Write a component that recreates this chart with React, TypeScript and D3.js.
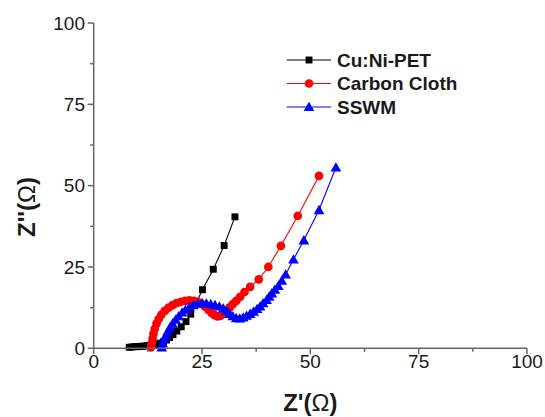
import React from "react";
import * as d3 from "d3";

// Nyquist data: [Z' (Ω), Z'' (Ω)]
const cuNiPet: [number, number][] = [
  [8.2, 0.3], [8.8, 0.4], [9.4, 0.5], [10.0, 0.5], [10.6, 0.6], [11.2, 0.6],
  [11.8, 0.7], [12.4, 0.8], [13.0, 0.9], [13.6, 1.0], [14.2, 1.1], [14.8, 1.3],
  [15.4, 1.6], [16.1, 2.0], [16.8, 2.6], [17.5, 3.3], [18.3, 4.2], [19.2, 5.3],
  [20.2, 6.6], [21.3, 8.2], [22.4, 10.5], [25.1, 18.0], [27.6, 24.3],
  [30.1, 31.6], [32.6, 40.4],
];

const carbonCloth: [number, number][] = [
  [13.2, 0.3], [13.4, 1.5], [13.6, 3.0], [13.8, 4.5], [14.1, 6.0], [14.5, 7.6],
  [15.0, 9.0], [15.6, 10.3], [16.4, 11.5], [17.3, 12.5], [18.2, 13.3],
  [19.1, 13.9], [20.1, 14.3], [21.1, 14.6], [22.1, 14.7], [23.1, 14.6],
  [24.0, 14.3], [24.9, 13.7], [25.7, 12.8], [26.5, 11.8], [27.2, 10.9],
  [27.9, 10.2], [28.6, 9.8], [29.3, 10.0], [30.0, 10.7], [30.7, 11.6],
  [31.4, 12.6], [32.1, 13.6], [32.9, 14.6], [33.8, 15.8], [34.8, 17.3],
  [36.1, 18.9], [38.1, 21.2], [40.3, 25.0], [43.2, 31.5], [47.1, 40.7],
  [52.0, 53.0],
];

const sswm: [number, number][] = [
  [15.7, 0.3], [15.9, 1.5], [16.2, 2.7], [16.6, 3.9], [17.1, 5.2], [17.6, 6.4],
  [18.2, 7.6], [18.9, 8.8], [19.6, 9.9], [20.4, 11.0], [21.2, 11.9],
  [22.1, 12.7], [23.0, 13.3], [24.0, 13.7], [25.0, 13.9], [26.0, 13.8],
  [27.0, 13.6], [28.0, 13.3], [29.0, 12.9], [29.9, 12.3], [30.7, 11.5],
  [31.4, 10.6], [32.1, 9.9], [32.9, 9.3], [33.7, 9.2], [34.5, 9.5],
  [35.3, 10.0], [36.1, 10.6], [36.9, 11.3], [37.7, 12.1], [38.4, 12.9],
  [39.1, 13.9], [39.9, 14.9], [40.5, 15.9], [41.1, 16.9], [41.8, 18.0],
  [42.6, 19.2], [43.4, 20.8], [44.3, 22.7], [46.1, 27.3], [48.5, 33.2],
  [52.0, 42.5], [55.9, 55.6],
];

const seriesNames = ["Cu:Ni-PET", "Carbon Cloth", "SSWM"];
const seriesColors = ["#000000", "#ff0000", "#0000ff"];
const seriesShapes = ["square", "circle", "triangle"];
const seriesData = [cuNiPet, carbonCloth, sswm];

const xTicks = [0, 25, 50, 75, 100];
const yTicks = [0, 25, 50, 75, 100];
const minorTicks = [12.5, 37.5, 62.5, 87.5];

const W = 545;
const H = 417;
const left = 93.7;
const right = 527;
const top = 23;
const bottom = 348.3;
const axisColor = "#666666";
const font = "'Liberation Sans', Arial, sans-serif";

const x = d3.scaleLinear().domain([0, 100]).range([left, right]);
const y = d3.scaleLinear().domain([0, 100]).range([bottom, top]);

const symbolPath = (shape: string, size: number) => {
  const type =
    shape === "square" ? d3.symbolSquare : shape === "circle" ? d3.symbolCircle : d3.symbolTriangle;
  return d3.symbol().type(type).size(size)() as string;
};

const markerSize: Record<string, number> = { square: 48, circle: 60, triangle: 50 };

function Marker({ shape, color, cx, cy }: { shape: string; color: string; cx: number; cy: number }) {
  const dy = shape === "triangle" ? 1 : 0;
  return (
    <path
      d={symbolPath(shape, markerSize[shape])}
      transform={`translate(${cx},${cy + dy})`}
      fill={color}
      stroke="none"
    />
  );
}

export default function App() {
  const line = d3
    .line<[number, number]>()
    .x((d) => x(d[0]))
    .y((d) => y(d[1]));

  return (
    <svg
      width={W}
      height={H}
      style={{ position: "absolute", left: 0, top: 0, background: "#fff" }}
      fontFamily={font}
    >
      {/* series */}
      {seriesData.map((data, i) => (
        <g key={seriesNames[i]}>
          <path d={line(data) as string} fill="none" stroke={seriesColors[i]} strokeWidth={1.1} />
          {data.map((d, j) => (
            <Marker key={j} shape={seriesShapes[i]} color={seriesColors[i]} cx={x(d[0])} cy={y(d[1])} />
          ))}
        </g>
      ))}

      {/* axes */}
      <g stroke={axisColor} strokeWidth={1.5}>
        <line x1={left} x2={right} y1={bottom} y2={bottom} />
        <line x1={left} x2={left} y1={top} y2={bottom} />
        {xTicks.map((t) => (
          <line key={`xt${t}`} x1={x(t)} x2={x(t)} y1={bottom} y2={bottom + 6} />
        ))}
        {minorTicks.map((t) => (
          <line key={`xm${t}`} x1={x(t)} x2={x(t)} y1={bottom} y2={bottom + 3.5} />
        ))}
        {yTicks.map((t) => (
          <line key={`yt${t}`} x1={left - 6} x2={left} y1={y(t)} y2={y(t)} />
        ))}
        {minorTicks.map((t) => (
          <line key={`ym${t}`} x1={left - 3.5} x2={left} y1={y(t)} y2={y(t)} />
        ))}
      </g>

      {/* tick labels */}
      <g fontSize={19} fill="#1a1a1a">
        {xTicks.map((t) => (
          <text key={`xl${t}`} x={x(t)} y={368} textAnchor="middle">
            {t}
          </text>
        ))}
        {yTicks.map((t) => (
          <text key={`yl${t}`} x={85} y={y(t) + 6.8} textAnchor="end">
            {t}
          </text>
        ))}
      </g>

      {/* axis titles */}
      <text x={(left + right) / 2} y={411} textAnchor="middle" fontSize={24} fontWeight="bold" fill="#1a1a1a">
        Z'(<tspan fontWeight="normal">Ω</tspan>)
      </text>
      <text
        transform={`translate(35,207) rotate(-90)`}
        textAnchor="middle"
        fontSize={24}
        fontWeight="bold"
        fill="#1a1a1a"
      >
        Z''(<tspan fontWeight="normal">Ω</tspan>)
      </text>

      {/* legend */}
      {seriesNames.map((name, i) => {
        const ly = 60 + i * 23.5;
        return (
          <g key={`lg${name}`}>
            <line x1={286.7} x2={331} y1={ly} y2={ly} stroke={seriesColors[i]} strokeWidth={1.1} />
            <Marker shape={seriesShapes[i]} color={seriesColors[i]} cx={309} cy={ly} />
            <text x={337} y={ly + 6.6} fontSize={19} fontWeight="bold" fill="#1a1a1a">
              {name}
            </text>
          </g>
        );
      })}
    </svg>
  );
}
